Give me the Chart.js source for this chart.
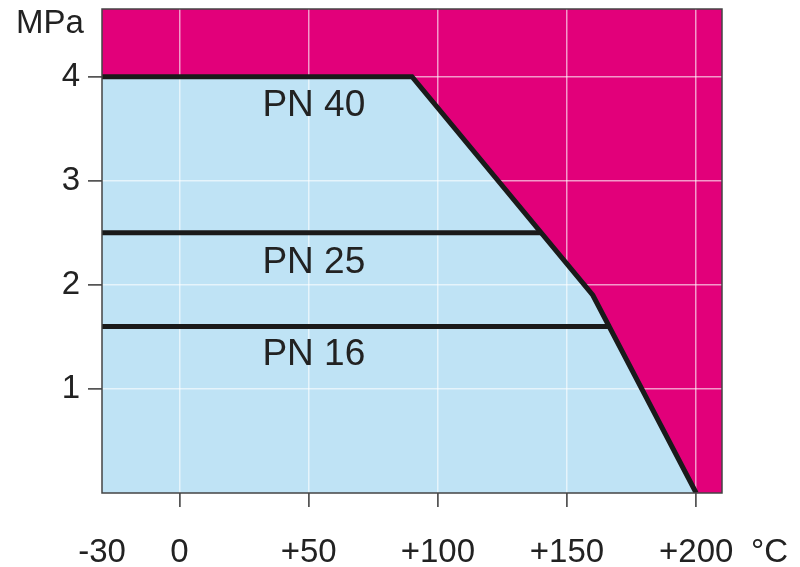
<!DOCTYPE html>
<html>
<head>
<meta charset="utf-8">
<script src="https://cdn.jsdelivr.net/npm/chart.js@4/dist/chart.umd.min.js"></script>
<style>
  html, body { margin: 0; padding: 0; background: #ffffff; }
  #wrap { width: 800px; height: 567px; }
</style>
</head>
<body>
<div id="wrap"><canvas id="c" width="800" height="567"></canvas></div>
<script>
// ---- data ----
const xTickValues = [-30, 0, 50, 100, 150, 200];      // °C
const yTickValues = [1, 2, 3, 4];                      // MPa
const pn40Temp = [-30, 90, 160, 200];
const pn40Pressure = [4, 4, 1.9, 0];
const pn25Temp = [-30, 140];
const pn25Pressure = [2.5, 2.5];
const pn16Temp = [-30, 167];
const pn16Pressure = [1.6, 1.6];
const seriesNames = ['PN 40', 'PN 25', 'PN 16'];
const nameTemp = [52, 52, 52];
const namePressure = [3.72, 2.21, 1.33];
const xUnit = '°C';
const yUnit = 'MPa';

const toPoints = (xs, ys) => xs.map((x, i) => ({ x: x, y: ys[i] }));

const FONT = '"Liberation Sans", Arial, Helvetica, sans-serif';
const MAGENTA = '#e2007a';
const BLUE = '#bfe3f5';
const TEXT = '#222222';

const bgPlugin = {
  id: 'bgPlugin',
  beforeDatasetsDraw(chart) {
    const a = chart.chartArea, ctx = chart.ctx;
    ctx.save();
    ctx.fillStyle = MAGENTA;
    ctx.fillRect(a.left, a.top, a.right - a.left, a.bottom - a.top);
    ctx.restore();
  },
  beforeDatasetDraw(chart, args) {
    if (args.index === 0) {
      chart.scales.x.drawGrid(chart.chartArea);
      chart.scales.y.drawGrid(chart.chartArea);
    }
  },
  afterDraw(chart) {
    const a = chart.chartArea, ctx = chart.ctx;
    const xs = chart.scales.x, ys = chart.scales.y;
    ctx.save();
    ctx.strokeStyle = '#444444';
    ctx.lineWidth = 1.5;
    ctx.strokeRect(a.left, a.top, a.right - a.left, a.bottom - a.top);
    // series labels
    ctx.fillStyle = TEXT;
    ctx.font = '37px ' + FONT;
    ctx.textAlign = 'center';
    ctx.textBaseline = 'middle';
    seriesNames.forEach((n, i) => {
      ctx.fillText(n, xs.getPixelForValue(nameTemp[i]), ys.getPixelForValue(namePressure[i]));
    });
    // unit labels
    ctx.font = '33px ' + FONT;
    ctx.textAlign = 'left';
    ctx.fillText(yUnit, 16, 24);
    ctx.fillText(xUnit, 751, 553);
    ctx.restore();
  }
};

new Chart(document.getElementById('c'), {
  type: 'line',
  data: {
    datasets: [
      {
        label: seriesNames[0],
        data: toPoints(pn40Temp, pn40Pressure),
        borderColor: '#1a1a1a',
        borderWidth: 5,
        borderJoinStyle: 'miter',
        backgroundColor: BLUE,
        fill: 'start',
        pointRadius: 0,
        tension: 0,
        order: 1
      },
      {
        label: seriesNames[1],
        data: toPoints(pn25Temp, pn25Pressure),
        borderColor: '#1a1a1a',
        borderWidth: 5,
        fill: false,
        pointRadius: 0,
        order: 0
      },
      {
        label: seriesNames[2],
        data: toPoints(pn16Temp, pn16Pressure),
        borderColor: '#1a1a1a',
        borderWidth: 5,
        fill: false,
        pointRadius: 0,
        order: 0
      }
    ]
  },
  options: {
    responsive: false,
    devicePixelRatio: 1,
    animation: false,
    layout: { padding: { top: 9, right: 78, left: 0, bottom: 0 } },
    plugins: { legend: { display: false }, tooltip: { enabled: false } },
    scales: {
      x: {
        type: 'linear',
        position: 'bottom',
        min: -30,
        max: 210,
        afterBuildTicks: s => { s.ticks = xTickValues.map(v => ({ value: v })); },
        afterFit: s => { s.height = 74; s.paddingLeft = 0; s.paddingRight = 0; },
        border: { display: false },
        grid: {
          color: c => (c.tick && c.tick.value === -30) ? 'rgba(0,0,0,0)' : 'rgba(255,255,255,0.6)',
          lineWidth: 1.5,
          tickLength: 14,
          tickWidth: 1.5,
          tickColor: c => (c.tick && c.tick.value === -30) ? 'rgba(0,0,0,0)' : '#555555'
        },
        ticks: {
          autoSkip: false,
          maxRotation: 0,
          padding: 26,
          color: TEXT,
          font: { family: FONT, size: 33 },
          callback: v => (v > 0 ? '+' + v : String(v))
        }
      },
      y: {
        type: 'linear',
        min: 0,
        max: 4.65,
        afterBuildTicks: s => { s.ticks = yTickValues.map(v => ({ value: v })); },
        afterFit: s => { s.width = 102; s.paddingTop = 0; s.paddingBottom = 0; },
        border: { display: false },
        grid: {
          color: 'rgba(255,255,255,0.6)',
          lineWidth: 1.5,
          tickLength: 14,
          tickWidth: 1.5,
          tickColor: '#555555'
        },
        ticks: {
          autoSkip: false,
          padding: 8,
          color: TEXT,
          font: { family: FONT, size: 33 }
        }
      }
    }
  },
  plugins: [bgPlugin]
});
</script>
</body>
</html>
